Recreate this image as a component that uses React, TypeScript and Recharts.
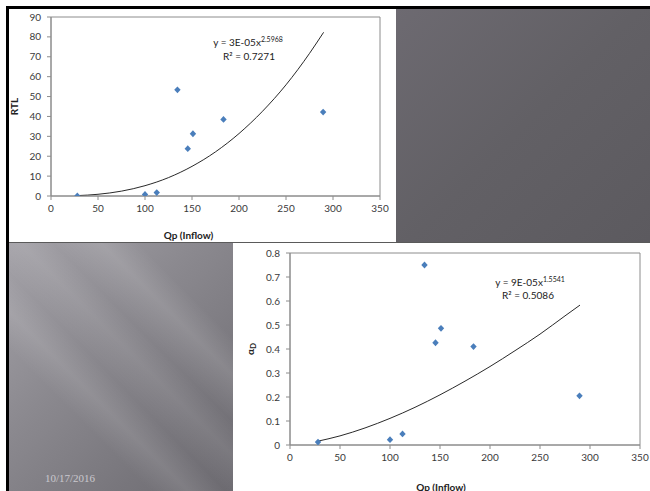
import React from 'react';
import { ComposedChart, Scatter, Line, XAxis, YAxis, ReferenceArea, Label } from 'recharts';

// Observed data (Qp inflow vs RTL and alpha_D)
const qp = [28, 100, 112.5, 134.5, 145.5, 151, 183.5, 289.5];
const rtl = [0, 0.8, 1.7, 53.4, 23.8, 31.3, 38.5, 42.2];
const alphaD = [0.012, 0.022, 0.046, 0.75, 0.426, 0.486, 0.41, 0.205];

// Power trendlines
const trendQp = [28, 50, 75, 100, 125, 150, 175, 200, 225, 250, 275, 290];
const rtlTrend = [0.19, 0.86, 2.45, 5.19, 9.25, 14.9, 22.2, 31.4, 42.6, 55.9, 71.7, 82.3];
const alphaTrend = [0.016, 0.038, 0.071, 0.111, 0.157, 0.209, 0.266, 0.327, 0.393, 0.462, 0.538, 0.583];

const xTicks = [0, 50, 100, 150, 200, 250, 300, 350];
const rtlTicks = [0, 10, 20, 30, 40, 50, 60, 70, 80, 90];
const alphaTicks = [0, 0.1, 0.2, 0.3, 0.4, 0.5, 0.6, 0.7, 0.8];

const rtlPoints = qp.map((x, i) => ({ x, y: rtl[i] }));
const alphaPoints = qp.map((x, i) => ({ x, y: alphaD[i] }));
const rtlTrendPts = trendQp.map((x, i) => ({ x, y: rtlTrend[i] }));
const alphaTrendPts = trendQp.map((x, i) => ({ x, y: alphaTrend[i] }));

const FONT = 'Lato, "Open Sans", sans-serif';
const AXIS = '#8c8c8c';
const tickStyle = { fontSize: 10, fill: '#3a3a3a', fontFamily: FONT };

const Diamond = (props: any) => {
  const { cx, cy } = props;
  if (cx == null || cy == null) return <g />;
  return (
    <path
      d={`M${cx},${cy - 3.4}L${cx + 3.2},${cy}L${cx},${cy + 3.4}L${cx - 3.2},${cy}Z`}
      fill="#4a7ebb"
    />
  );
};

const YTitle = ({ viewBox, text, sub, dx }: any) => {
  const x = (viewBox && typeof viewBox.x === 'number' ? viewBox.x : 0) + dx;
  const y = viewBox.y + viewBox.height / 2;
  return (
    <text
      x={x}
      y={y}
      transform={`rotate(-90, ${x}, ${y})`}
      textAnchor="middle"
      dominantBaseline="central"
      fontFamily={FONT}
      fontWeight="bold"
      fontSize={10}
      fill="#222"
    >
      {text}
      {sub ? (
        <tspan dy={3} fontSize={8}>
          {sub}
        </tspan>
      ) : null}
    </text>
  );
};

export default function App() {
  return (
    <div
      style={{
        position: 'absolute',
        left: 0,
        top: 0,
        width: 650,
        height: 491,
        background: '#fff',
        overflow: 'hidden',
        fontFamily: FONT,
      }}
    >
      {/* slide borders */}
      <div style={{ position: 'absolute', left: 6, top: 6, width: 644, height: 3, background: '#000' }} />
      <div style={{ position: 'absolute', left: 6, top: 6, width: 3, height: 485, background: '#000' }} />

      {/* top-right gray panel */}
      <div
        style={{
          position: 'absolute',
          left: 396,
          top: 9,
          width: 254,
          height: 233,
          background: 'linear-gradient(135deg, #6d6a71 0%, #626065 50%, #5c5a5f 100%)',
        }}
      />

      {/* bottom-left gray panel */}
      <div
        style={{
          position: 'absolute',
          left: 9,
          top: 243,
          width: 224,
          height: 248,
          background:
            'linear-gradient(45deg, rgba(255,255,255,0) 30%, rgba(255,255,255,0.10) 38%, rgba(255,255,255,0) 46%, rgba(255,255,255,0.08) 55%, rgba(255,255,255,0) 62%, rgba(255,255,255,0.12) 72%, rgba(255,255,255,0) 80%), linear-gradient(135deg, #a4a2a8 0%, #8b898f 40%, #78767c 75%, #6c6a70 100%)',
        }}
      />
      <div
        style={{
          position: 'absolute',
          left: 45,
          top: 472,
          fontFamily: '"Liberation Serif", "DejaVu Serif", serif',
          fontSize: 11,
          color: '#cac8ce',
          whiteSpace: 'nowrap',
        }}
      >
        10/17/2016
      </div>

      {/* separator line */}
      <div style={{ position: 'absolute', left: 9, top: 242, width: 641, height: 1, background: '#5a5a5a' }} />

      {/* top chart */}
      <div style={{ position: 'absolute', left: 9, top: 9, width: 387, height: 233, background: '#fff' }}>
        <ComposedChart width={387} height={233} margin={{ top: 8, right: 16, left: 0, bottom: 0 }}>
          <XAxis
            dataKey="x"
            type="number"
            domain={[0, 350]}
            ticks={xTicks}
            height={46}
            tickSize={4}
            tickMargin={5}
            tick={tickStyle}
            stroke={AXIS}
            allowDataOverflow
          >
            <Label
              value="Qp (Inflow)"
              position="insideBottom"
              offset={3}
              dx={-27}
              style={{ fontSize: 10, fontWeight: 'bold', fill: '#222', fontFamily: FONT }}
            />
          </XAxis>
          <YAxis
            dataKey="y"
            type="number"
            domain={[0, 90]}
            ticks={rtlTicks}
            width={42}
            tickSize={4}
            tickMargin={6}
            tick={tickStyle}
            stroke={AXIS}
            allowDataOverflow
          >
            <Label content={(p: any) => <YTitle viewBox={p.viewBox} text="RTL" dx={5} />} />
          </YAxis>
          <ReferenceArea x1={0} x2={350} y1={0} y2={90} fill="none" stroke={AXIS} strokeWidth={1} />
          <Line
            data={rtlTrendPts}
            dataKey="y"
            type="monotone"
            dot={false}
            stroke="#111"
            strokeWidth={0.9}
            isAnimationActive={false}
          />
          <Scatter data={rtlPoints} shape={Diamond} isAnimationActive={false} />
        </ComposedChart>
        <svg
          width={387}
          height={233}
          style={{ position: 'absolute', left: 0, top: 0, pointerEvents: 'none' }}
        >
          <text x={239} y={37} textAnchor="middle" fontSize={10} fontFamily={FONT} fill="#222">
            y = 3E-05x
            <tspan dy={-4} fontSize={7}>
              2.5968
            </tspan>
          </text>
          <text x={240} y={51} textAnchor="middle" fontSize={10} fontFamily={FONT} fill="#222">
            R² = 0.7271
          </text>
        </svg>
      </div>

      {/* bottom chart */}
      <div style={{ position: 'absolute', left: 233, top: 243, width: 417, height: 248, background: '#fff' }}>
        <ComposedChart width={417} height={248} margin={{ top: 10, right: 10, left: 0, bottom: 0 }}>
          <XAxis
            dataKey="x"
            type="number"
            domain={[0, 350]}
            ticks={xTicks}
            height={46}
            tickSize={4}
            tickMargin={5}
            tick={tickStyle}
            stroke={AXIS}
            allowDataOverflow
          >
            <Label
              value="Qp (Inflow)"
              position="insideBottom"
              offset={0}
              dx={-24}
              style={{ fontSize: 10, fontWeight: 'bold', fill: '#222', fontFamily: FONT }}
            />
          </XAxis>
          <YAxis
            dataKey="y"
            type="number"
            domain={[0, 0.8]}
            ticks={alphaTicks}
            width={57}
            tickSize={4}
            tickMargin={6}
            tick={tickStyle}
            tickFormatter={(v: number) => (v === 0 ? '0' : v.toFixed(1))}
            stroke={AXIS}
            allowDataOverflow
          >
            <Label
              content={(p: any) => <YTitle viewBox={p.viewBox} text="α" sub="D" dx={17} />}
            />
          </YAxis>
          <ReferenceArea x1={0} x2={350} y1={0} y2={0.8} fill="none" stroke={AXIS} strokeWidth={1} />
          <Line
            data={alphaTrendPts}
            dataKey="y"
            type="monotone"
            dot={false}
            stroke="#111"
            strokeWidth={0.9}
            isAnimationActive={false}
          />
          <Scatter data={alphaPoints} shape={Diamond} isAnimationActive={false} />
        </ComposedChart>
        <svg
          width={417}
          height={248}
          style={{ position: 'absolute', left: 0, top: 0, pointerEvents: 'none' }}
        >
          <text x={297} y={43} textAnchor="middle" fontSize={10} fontFamily={FONT} fill="#222">
            y = 9E-05x
            <tspan dy={-4} fontSize={7}>
              1.5541
            </tspan>
          </text>
          <text x={295} y={56} textAnchor="middle" fontSize={10} fontFamily={FONT} fill="#222">
            R² = 0.5086
          </text>
        </svg>
      </div>
    </div>
  );
}
